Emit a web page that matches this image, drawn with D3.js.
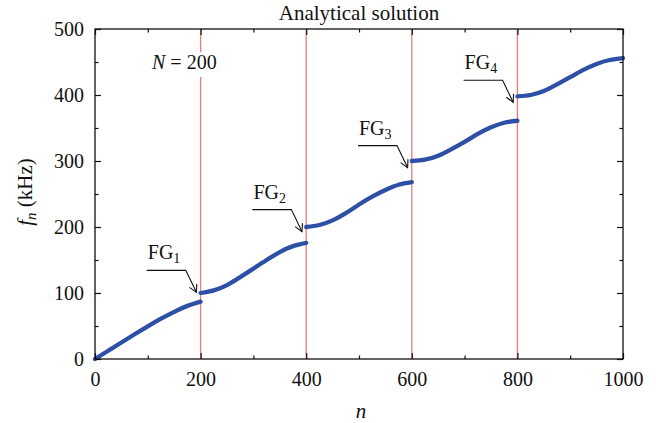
<!DOCTYPE html>
<html>
<head>
<meta charset="utf-8">
<script src="https://cdn.jsdelivr.net/npm/d3@7"></script>
<style>
  body { margin: 0; background: #fff; }
  svg text { font-family: "Liberation Serif", "DejaVu Serif", serif; fill: #111; }
</style>
</head>
<body>
<div id="chart"></div>
<script>
/************************
 *  Data
 ************************/
// band index n, frequency f_n (kHz), one array pair per branch
const n1 = [0, 25, 50, 75, 100, 125, 150, 175, 200];
const f1 = [0, 12.5, 25, 37.5, 49.5, 61, 71.5, 80.5, 87];
const n2 = [200, 225, 250, 275, 300, 325, 350, 375, 400];
const f2 = [100, 104, 112, 124, 137, 150, 162, 171, 176];
const n3 = [400, 425, 450, 475, 500, 525, 550, 575, 600];
const f3 = [200, 203, 210, 221, 234, 246, 256, 264, 268];
const n4 = [600, 625, 650, 675, 700, 725, 750, 775, 800];
const f4 = [300, 302, 308, 318, 329, 341, 351, 358, 361];
const n5 = [800, 825, 850, 875, 900, 925, 950, 975, 1000];
const f5 = [398, 400, 406, 416, 427, 438, 447, 453, 456];

const gapN = [200, 400, 600, 800];        // band gap positions (red lines)
const gapLabels = ["1", "2", "3", "4"];   // FG subscripts
const arrowTipN = [192, 392, 592, 792];
const arrowTipF = [101, 193, 290, 389];

const xTicks = [0, 200, 400, 600, 800, 1000];
const yTicks = [0, 100, 200, 300, 400, 500];

/************************
 *  Setup
 ************************/
const width = 656, height = 423;
const margin = { top: 29, right: 33, bottom: 64, left: 95 };
const innerW = width - margin.left - margin.right;
const innerH = height - margin.top - margin.bottom;
const fontSize = "20px";

const svg = d3.select("#chart").append("svg")
  .attr("width", width)
  .attr("height", height);

const g = svg.append("g")
  .attr("transform", `translate(${margin.left},${margin.top})`);

const x = d3.scaleLinear().domain([0, 1000]).range([0, innerW]);
const y = d3.scaleLinear().domain([0, 500]).range([innerH, 0]);

const branches = [[n1, f1], [n2, f2], [n3, f3], [n4, f4], [n5, f5]]
  .map(([ns, fs]) => ns.map((n, i) => ({ n, f: fs[i] })));

/************************
 *  Red gap lines
 ************************/
g.selectAll(".gap-line")
  .data(gapN)
  .enter()
  .append("line")
  .attr("class", "gap-line")
  .attr("x1", d => x(d)).attr("x2", d => x(d))
  .attr("y1", 0).attr("y2", innerH)
  .style("stroke", "#f07a7a")
  .style("stroke-width", 1.3);

/************************
 *  "N = 200" label (white box breaks the red line)
 ************************/
g.append("rect")
  .attr("x", x(108)).attr("y", 23)
  .attr("width", 78).attr("height", 25)
  .style("fill", "#fff");

const nLabel = g.append("text")
  .attr("x", x(108))
  .attr("y", 40)
  .style("font-size", fontSize);
nLabel.append("tspan").style("font-style", "italic").text("N");
nLabel.append("tspan").text(" = 200");

/************************
 *  Curve
 ************************/
const line = d3.line()
  .x(d => x(d.n))
  .y(d => y(d.f))
  .curve(d3.curveNatural);

g.selectAll(".branch")
  .data(branches)
  .enter()
  .append("path")
  .attr("class", "branch")
  .attr("d", line)
  .style("fill", "none")
  .style("stroke", "#2d4fa6")
  .style("stroke-width", 4.3)
  .style("stroke-linecap", "round");

/************************
 *  FG callouts
 ************************/
gapLabels.forEach((lab, i) => {
  const tx = x(arrowTipN[i]), ty = y(arrowTipF[i]);
  const kx = tx - 10.6, ky = ty - 22;
  const hx = kx - 39;

  g.append("polyline")
    .attr("points", `${hx},${ky} ${kx},${ky} ${tx},${ty}`)
    .style("fill", "none")
    .style("stroke", "#111")
    .style("stroke-width", 1.1);

  // open arrow head
  const ang = Math.atan2(ty - ky, tx - kx);
  const len = 8.5, spread = 0.5;
  const a1 = ang + Math.PI - spread, a2 = ang + Math.PI + spread;
  g.append("polyline")
    .attr("points", `${tx + len * Math.cos(a1)},${ty + len * Math.sin(a1)} ${tx},${ty} ${tx + len * Math.cos(a2)},${ty + len * Math.sin(a2)}`)
    .style("fill", "none")
    .style("stroke", "#111")
    .style("stroke-width", 1.1);

  const t = g.append("text")
    .attr("x", hx + 1)
    .attr("y", ky - 11)
    .style("font-size", fontSize);
  t.append("tspan").text("FG");
  t.append("tspan")
    .attr("dy", 4)
    .style("font-size", "14px")
    .text(lab);
});

/************************
 *  Axes (inward ticks on all four sides)
 ************************/
function styleAxis(sel) {
  sel.select(".domain").remove();
  sel.selectAll("line").style("stroke", "#111").style("stroke-width", 1.2);
  sel.selectAll("text").style("font-size", fontSize).style("fill", "#111")
    .style("font-family", '"Liberation Serif", serif');
}

const xMinor = d3.range(100, 1000, 200);
const yMinor = d3.range(50, 500, 100);

g.append("g").attr("transform", `translate(0,${innerH})`)
  .call(d3.axisBottom(x).tickValues(xTicks).tickSize(-6).tickPadding(13).tickFormat(d3.format("d")))
  .call(styleAxis);
g.append("g").attr("transform", `translate(0,${innerH})`)
  .call(d3.axisBottom(x).tickValues(xMinor).tickSize(-3.5).tickFormat(""))
  .call(styleAxis);
g.append("g")
  .call(d3.axisTop(x).tickValues(xTicks).tickSize(-6).tickFormat(""))
  .call(styleAxis);
g.append("g")
  .call(d3.axisTop(x).tickValues(xMinor).tickSize(-3.5).tickFormat(""))
  .call(styleAxis);

g.append("g")
  .call(d3.axisLeft(y).tickValues(yTicks).tickSize(-6).tickPadding(11).tickFormat(d3.format("d")))
  .call(styleAxis);
g.append("g")
  .call(d3.axisLeft(y).tickValues(yMinor).tickSize(-3.5).tickFormat(""))
  .call(styleAxis);
g.append("g").attr("transform", `translate(${innerW},0)`)
  .call(d3.axisRight(y).tickValues(yTicks).tickSize(-6).tickFormat(""))
  .call(styleAxis);
g.append("g").attr("transform", `translate(${innerW},0)`)
  .call(d3.axisRight(y).tickValues(yMinor).tickSize(-3.5).tickFormat(""))
  .call(styleAxis);

// frame
g.append("rect")
  .attr("width", innerW).attr("height", innerH)
  .style("fill", "none")
  .style("stroke", "#111")
  .style("stroke-width", 1.3);

/************************
 *  Titles
 ************************/
g.append("text")
  .attr("x", innerW / 2)
  .attr("y", -9)
  .style("text-anchor", "middle")
  .style("font-size", "21px")
  .text("Analytical solution");

g.append("text")
  .attr("x", innerW / 2 + 2)
  .attr("y", innerH + 59)
  .style("text-anchor", "middle")
  .style("font-size", "21px")
  .style("font-style", "italic")
  .text("n");

const yTitle = svg.append("text")
  .attr("transform", `translate(32,${margin.top + innerH / 2 - 2}) rotate(-90)`)
  .style("text-anchor", "middle")
  .style("font-size", "21px");
yTitle.append("tspan").style("font-style", "italic").text("f");
yTitle.append("tspan").attr("dy", 4).style("font-size", "15px").style("font-style", "italic").text("n");
yTitle.append("tspan").attr("dy", -4).text(" (kHz)");
</script>
</body>
</html>
